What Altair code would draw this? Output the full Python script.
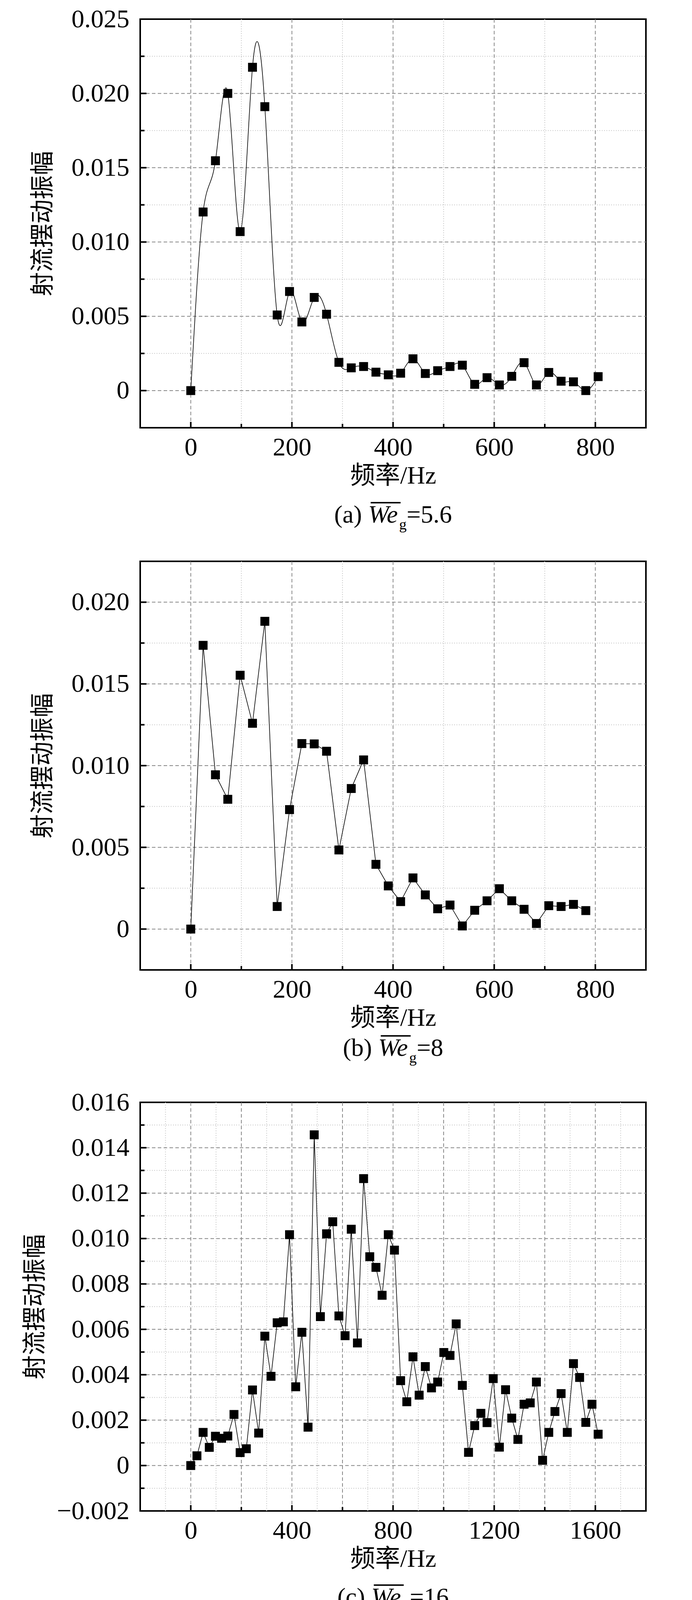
import altair as alt
import pandas as pd

# ---------------- data ----------------
STEP_HZ = 24.41  # frequency bin spacing

WE56 = [0, 0.01202, 0.01547, 0.0200, 0.01070, 0.02176, 0.01911, 0.00509, 0.00667,
        0.00462, 0.00627, 0.00514, 0.00190, 0.00153, 0.00162, 0.00124, 0.00106,
        0.00117, 0.00214, 0.00115, 0.00134, 0.00162, 0.00171, 0.00042, 0.00087,
        0.00038, 0.00096, 0.00188, 0.00038, 0.00122, 0.00063, 0.00059, 0.0, 0.00094]

WE8 = [0, 0.01736, 0.00944, 0.00794, 0.01553, 0.01259, 0.01883, 0.00138, 0.00731,
       0.01135, 0.01133, 0.01088, 0.00484, 0.00860, 0.01035, 0.00396, 0.00264,
       0.00168, 0.00313, 0.00209, 0.00124, 0.00147, 0.00019, 0.00115, 0.00173,
       0.00247, 0.00173, 0.00121, 0.00034, 0.00143, 0.00138, 0.00151, 0.00113]

WE16 = [0, 0.00043, 0.00146, 0.00080, 0.00129, 0.00120, 0.00130, 0.00225, 0.00057,
        0.00074, 0.00333, 0.00143, 0.00570, 0.00393, 0.00629, 0.00633, 0.01017,
        0.00347, 0.00587, 0.00169, 0.01457, 0.00656, 0.01021, 0.01074, 0.00659,
        0.00572, 0.01041, 0.00540, 0.01264, 0.00920, 0.00873, 0.00750, 0.01017,
        0.00949, 0.00374, 0.00281, 0.00479, 0.00310, 0.00436, 0.00342, 0.00368,
        0.00498, 0.00485, 0.00624, 0.00353, 0.00058, 0.00176, 0.00230, 0.00189,
        0.00383, 0.00081, 0.00334, 0.00209, 0.00115, 0.00270, 0.00276, 0.00368,
        0.00023, 0.00146, 0.00238, 0.00317, 0.00146, 0.00449, 0.00388, 0.00190,
        0.00270, 0.00138]

WE40 = [0, 0.02298, 0.00897, 0.00982, 0.01813, 0.00380, 0.00778, 0.00982, 0.01127,
        0.00544, 0.00642, 0.00921, 0.00700, 0.01029, 0.00628, 0.00836, 0.00686,
        0.00354, 0.00459, 0.00384, 0.00405, 0.00075, 0.00171, 0.00326, 0.00469,
        0.00258, 0.00237, 0.00108, 0.00094, 0.00122, 0.00117, 0.00021, 0.00028,
        0.00101, 0.00063, 0.00138]

# continuation of the spectra that only appears in the combined panel (e)
WE56_TAIL = [0.0010, 0.0006, 0.0004, 0.0008, 0.0003, 0.0005, 0.0007, 0.0002, 0.0004,
             0.0006, 0.0003, 0.0001, 0.0004, 0.0002, 0.0005, 0.0003, 0.0001, 0.0003,
             0.0006, 0.0002, 0.0001, 0.0003, 0.0002, 0.0004, 0.0001, 0.0003, 0.0002,
             0.0001, 0.0003, 0.0002, 0.0001]
WE8_TAIL = [0.0012, 0.0005, 0.0010, 0.0012, 0.0021, 0.0011, 0.0007, 0.0003, 0.0009,
            0.0006, 0.0004, 0.0008, 0.0005, 0.0002, 0.0009, 0.0006, 0.0004, 0.0010,
            0.0007, 0.0003, 0.0005, 0.0009, 0.0006, 0.0002, 0.0004, 0.0008, 0.0005,
            0.0003, 0.0007, 0.0004, 0.0002, 0.0005]
WE40_TAIL = [0.0009, 0.0012, 0.0005, 0.0008, 0.0003, 0.0006, 0.0009, 0.0002, 0.0005,
             0.0003, 0.0012, 0.0004, 0.0001, 0.0006, 0.0003, 0.0008, 0.0005, 0.0002,
             0.0004, 0.0007, 0.0003, 0.0006, 0.0002, 0.0005, 0.0004, 0.0001, 0.0003,
             0.0005, 0.0006]
E_POINTS = 65  # points per series shown in panel (e)

SERIES_NAMES = ["5.6", "8", "16", "40"]
SERIES_COLORS = ["#4b4b4b", "#ee3c3c", "#1c6ddf", "#36a862"]
SERIES_SHAPES = ["square", "circle", "triangle-up", "triangle-down"]

CAPTION_TAGS = ["(a) ", "(b) ", "(c) ", "(d) ", "(e) "]
CAPTION_VALUES = ["=5.6", "=8", "=16", "=40", "=1 000"]

X_TITLE = "频率/Hz"
Y_TITLE = "射流摆动振幅"

# axis tick / grid values
XL_800 = [0, 200, 400, 600, 800]
XM_800 = [100, 300, 500, 700]
XL_1000 = [0, 200, 400, 600, 800, 1000]
XM_1000 = [100, 300, 500, 700, 900]
XD_1000 = [0, 200, 400, 600, 800]
XL_1600 = [0, 400, 800, 1200, 1600]
XM_1600 = [200, 600, 1000, 1400]
XD_1600 = [0, 200, 400, 600, 800, 1000, 1200, 1400, 1600]
XO_1800 = [-100, 100, 300, 500, 700, 900, 1100, 1300, 1500, 1700]
XO_1700 = [-100, 100, 300, 500, 700, 900, 1100, 1300, 1500]

YL_25 = [0, 0.005, 0.010, 0.015, 0.020, 0.025]
YD_25 = [0, 0.005, 0.010, 0.015, 0.020]
YM_25 = [0.0025, 0.0075, 0.0125, 0.0175, 0.0225]
YL_20 = [0, 0.005, 0.010, 0.015, 0.020]
YM_20 = [0.0025, 0.0075, 0.0125, 0.0175]
YL_16 = [-0.002, 0, 0.002, 0.004, 0.006, 0.008, 0.010, 0.012, 0.014, 0.016]
YD_16 = [0, 0.002, 0.004, 0.006, 0.008, 0.010, 0.012, 0.014]
YM_16 = [-0.001, 0.001, 0.003, 0.005, 0.007, 0.009, 0.011, 0.013, 0.015]

# ---------------- style ----------------
W = 1295
H = 1046
SERIF = "Liberation Serif"
MIXED = "Liberation Serif, Noto Sans CJK SC"
LABEL_SIZE = 66
CAP_SIZE = 64

ADV = {"(": 333, ")": 333, " ": 250, "=": 564, ".": 250, "a": 444, "b": 500,
       "c": 444, "d": 500, "e": 444, "g": 500}
ADV_IT = {"W": 833, "e": 444, "k": 444}


def text_width(s, size, italic=False):
    table = ADV_IT if italic else ADV
    return sum(table.get(ch, 500) for ch in s) / 1000.0 * size


def text_layer(s, x, y, size, italic=False):
    return alt.Chart(pd.DataFrame({"t": [s]})).mark_text(
        align="left", baseline="alphabetic", font=SERIF, fontSize=size,
        fontStyle="italic" if italic else "normal", color="black"
    ).encode(text="t:N", x=alt.value(x), y=alt.value(y))


def rule_px(x1, x2, y, color="black", width=3.5, opacity=1):
    return alt.Chart(pd.DataFrame({"r": [0]})).mark_rule(
        color=color, strokeWidth=width, opacity=opacity
    ).encode(x=alt.value(x1), x2=alt.value(x2), y=alt.value(y))


def we_label(x0, baseline, size, value_text, prefix=None, bar=0.8):
    layers = []
    x = x0
    if prefix:
        layers.append(text_layer(prefix, x, baseline, size))
        x += text_width(prefix, size)
    w_we = text_width("We", size, True)
    layers.append(text_layer("We", x, baseline, size, True))
    layers.append(rule_px(x + 0.10 * size, x + w_we + 0.02 * size,
                          baseline - bar * size, width=0.06 * size))
    x += w_we - 0.04 * size
    sub = 0.6 * size
    layers.append(text_layer("g", x, baseline + 0.26 * size, sub))
    x += text_width("g", sub)
    layers.append(text_layer(value_text, x, baseline, size))
    return layers


def we_label_width(size, value_text, prefix=None):
    w = text_width("We", size, True) - 0.04 * size + text_width("g", 0.6 * size) + text_width(value_text, size)
    if prefix:
        w += text_width(prefix, size)
    return w


def series_df(vals):
    return pd.DataFrame({"f": [round(i * STEP_HZ, 2) for i in range(len(vals))], "v": vals})


def panel(xdom, xl, xm, xd, xo, ydom, yl, ym, yd, series, interp,
          caption, cap_gap, legend=False, ytitle_pad=40, extra_bottom=0):
    xs = alt.Scale(domain=xdom, nice=False, zero=False)
    ys = alt.Scale(domain=ydom, nice=False, zero=False)
    xaxis = alt.Axis(values=xl, format="d", title=X_TITLE, titleFont=MIXED,
                     titleFontSize=64, titleFontWeight="normal", titleColor="black",
                     titlePadding=8, labelFont=SERIF, labelFontSize=LABEL_SIZE,
                     labelColor="black", labelPadding=18, labelFlush=False,
                     labelOverlap=False, labelLimit=0, ticks=False, domain=False, grid=False)
    yaxis = alt.Axis(values=yl, labelExpr="datum.value == 0 ? '0' : format(datum.value, '.3f')",
                     title=Y_TITLE, titleFont=MIXED, titleFontSize=62,
                     titleFontWeight="normal", titleColor="black", titlePadding=ytitle_pad,
                     labelFont=SERIF, labelFontSize=LABEL_SIZE, labelColor="black",
                     labelPadding=28, labelFlush=False, labelOverlap=False, labelLimit=0,
                     ticks=False, domain=False, grid=False)
    X = lambda f: alt.X(f, scale=xs, axis=xaxis)
    Y = lambda f: alt.Y(f, scale=ys, axis=yaxis)

    def vrules(vals, color, width, dash=None, length=None):
        kw = dict(color=color, strokeWidth=width)
        if dash:
            kw["strokeDash"] = dash
        y1 = H if length else 0
        y2 = H - length if length else H
        return alt.Chart(pd.DataFrame({"f": vals})).mark_rule(**kw).encode(
            x=X("f:Q"), y=alt.value(y1), y2=alt.value(y2))

    def hrules(vals, color, width, dash=None, length=None):
        kw = dict(color=color, strokeWidth=width)
        if dash:
            kw["strokeDash"] = dash
        return alt.Chart(pd.DataFrame({"v": vals})).mark_rule(**kw).encode(
            y=Y("v:Q"), x=alt.value(0), x2=alt.value(length if length else W))

    layers = [
        vrules(xo, "#c4c4c4", 2, [2, 4]),
        hrules(ym, "#c4c4c4", 2, [2, 4]),
        vrules(xd, "#878787", 2, [9, 6]),
        hrules(yd, "#878787", 2, [9, 6]),
        vrules(xl, "black", 4, length=15),
        vrules(xm, "black", 4, length=10),
        hrules(yl, "black", 4, length=16),
        hrules(ym, "black", 4, length=11),
    ]
    for df, color, shape, size, lw in series:
        layers.append(alt.Chart(df).mark_line(color=color, strokeWidth=lw,
                                              interpolate=interp).encode(
            x=X("f:Q"), y=Y("v:Q")))
        layers.append(alt.Chart(df).mark_point(shape=shape, filled=True, opacity=1,
                                               color=color, size=size).encode(
            x=X("f:Q"), y=Y("v:Q")))
    if legend:
        rows = [95, 188, 283, 376]
        for i, ly in enumerate(rows):
            layers.append(rule_px(858, 978, ly, SERIES_COLORS[i], 2))
            layers.append(alt.Chart(pd.DataFrame({"r": [0]})).mark_point(
                shape=SERIES_SHAPES[i], filled=True, opacity=1, color=SERIES_COLORS[i],
                size=series[i][3]).encode(x=alt.value(918), y=alt.value(ly)))
            layers += we_label(996, ly + 22, 60, "=" + SERIES_NAMES[i], bar=0.94)
    tag, kind, val = caption
    baseline = H + cap_gap
    if kind == "we":
        w = we_label_width(CAP_SIZE, val, tag)
        layers += we_label(W / 2 - w / 2, baseline, CAP_SIZE, val, tag)
    else:
        w = text_width(tag, CAP_SIZE) + text_width("k", CAP_SIZE, True) + text_width(val, CAP_SIZE)
        x = W / 2 - w / 2
        layers.append(text_layer(tag, x, baseline, CAP_SIZE))
        x += text_width(tag, CAP_SIZE)
        layers.append(text_layer("k", x, baseline, CAP_SIZE, True))
        x += text_width("k", CAP_SIZE, True)
        layers.append(text_layer(val, x, baseline, CAP_SIZE))
    if extra_bottom:
        # invisible spacer that only widens the gap below this panel
        layers.append(rule_px(0, 2, H + cap_gap + 25 + extra_bottom, "white", 1, 0))
    return alt.layer(*layers).properties(width=W, height=H)


single = lambda vals: [(series_df(vals), "black", "square", 520, 1.6)]

pa = panel([-100, 900], XL_800, XM_800, XL_800, XM_800, [-0.0025, 0.025], YL_25, YM_25, YD_25,
           single(WE56), "natural", (CAPTION_TAGS[0], "we", CAPTION_VALUES[0]), 243,
           extra_bottom=12)
pb = panel([-100, 900], XL_800, XM_800, XL_800, XM_800, [-0.0025, 0.0225], YL_20, YM_20, YL_20,
           single(WE8), "linear", (CAPTION_TAGS[1], "we", CAPTION_VALUES[1]), 220)
pc = panel([-200, 1800], XL_1600, XM_1600, XD_1600, XO_1800, [-0.002, 0.016], YL_16, YM_16, YD_16,
           single(WE16), "linear", (CAPTION_TAGS[2], "we", CAPTION_VALUES[2]), 241,
           ytitle_pad=37)
pd_ = panel([-100, 1000], XL_1000, XM_1000, XD_1000, XM_1000, [-0.0025, 0.025], YL_25, YM_25, YD_25,
            single(WE40), "linear", (CAPTION_TAGS[3], "we", CAPTION_VALUES[3]), 239)

e_series = [
    (series_df((WE56 + WE56_TAIL)[:E_POINTS]), SERIES_COLORS[0], SERIES_SHAPES[0], 440, 1.8),
    (series_df((WE8 + WE8_TAIL)[:E_POINTS]), SERIES_COLORS[1], SERIES_SHAPES[1], 500, 1.8),
    (series_df(WE16[:E_POINTS]), SERIES_COLORS[2], SERIES_SHAPES[2], 620, 1.8),
    (series_df((WE40 + WE40_TAIL)[:E_POINTS]), SERIES_COLORS[3], SERIES_SHAPES[3], 620, 1.8),
]
pe = panel([-200, 1700], XL_1600, XM_1600, XD_1600, XO_1700, [-0.0025, 0.025], YL_25, YM_25, YD_25,
           e_series, "linear", (CAPTION_TAGS[4], "k", CAPTION_VALUES[4]), 243, legend=True)

chart = alt.vconcat(pa, pb, pc, pd_, pe, spacing=57).properties(
    padding={"left": 49, "top": 6, "right": 5, "bottom": 0},
    background="white",
).configure_view(stroke="black", strokeWidth=4)

chart.save("out.html", embed_options={"renderer": "svg", "actions": False})
